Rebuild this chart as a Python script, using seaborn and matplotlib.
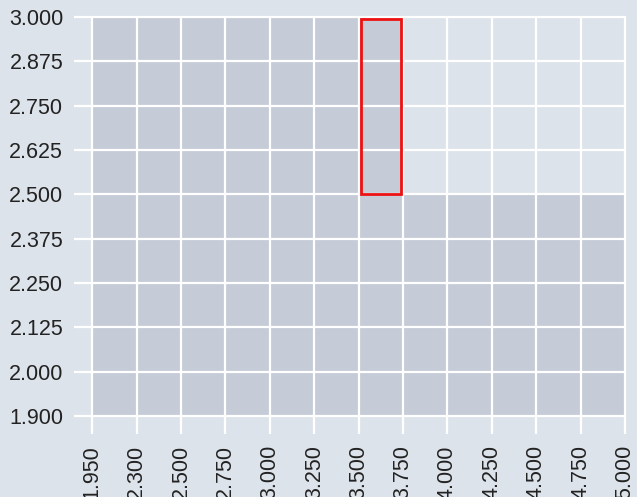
import numpy as np
import pandas as pd
import matplotlib
matplotlib.use("Agg")
import matplotlib.pyplot as plt
import matplotlib.patches as mpatches
import seaborn as sns

# dados
x_labels = ["1.950", "2.300", "2.500", "2.750", "3.000", "3.250", "3.500",
            "3.750", "4.000", "4.250", "4.500", "4.750", "5.000"]
y_labels = ["1.900", "2.000", "2.125", "2.250", "2.375", "2.500",
            "2.625", "2.750", "2.875", "3.000"]
# topo de cada coluna (valor do eixo y)
col_top = ["3.000", "3.000", "3.000", "3.000", "3.000", "3.000", "3.000",
           "2.500", "2.500", "2.500", "2.500", "2.500"]
# faixa destacada
hl_x = ("3.500", "3.750")
hl_y = ("2.500", "3.000")

BG = "#dde3ea"
FILL = "#c5ccd7"

sns.set_theme(style="whitegrid")
plt.rcParams.update({
    "figure.facecolor": BG,
    "axes.facecolor": BG,
    "grid.color": "white",
    "grid.linewidth": 1.6,
    "font.family": ["Liberation Sans", "DejaVu Sans"],
})

df = pd.DataFrame({
    "pos": np.arange(len(col_top)) + 0.5,
    "altura": [y_labels.index(v) for v in col_top],
})

fig, ax = plt.subplots(figsize=(6.37, 4.97), dpi=100)
sns.barplot(data=df, x="pos", y="altura", native_scale=True, width=1,
            color=FILL, saturation=1, linewidth=0, errorbar=None, ax=ax)

x0, x1 = x_labels.index(hl_x[0]), x_labels.index(hl_x[1])
y0, y1 = y_labels.index(hl_y[0]), y_labels.index(hl_y[1])
ax.add_patch(mpatches.Rectangle((x0 + 0.05, y0), x1 - x0 - 0.1, y1 - y0 - 0.05,
                                fill=False, edgecolor="#ee1111", linewidth=2,
                                zorder=5))

ax.set_xlim(0, len(x_labels) - 1)
ax.set_ylim(0, len(y_labels) - 1)
ax.set_xticks(range(len(x_labels)))
ax.set_xticklabels(x_labels, rotation=90)
ax.set_yticks(range(len(y_labels)))
ax.set_yticklabels(y_labels)
ax.set_xlabel("")
ax.set_ylabel("")
ax.set_axisbelow(False)
ax.grid(True, color="white", linewidth=1.6, zorder=3)
for gl in ax.get_xgridlines() + ax.get_ygridlines():
    gl.set_clip_on(False)
ax.tick_params(axis="both", bottom=True, left=True, length=13, width=1.6,
               color="white", labelsize=15.5, labelcolor="#222222", pad=8)
for s in ax.spines.values():
    s.set_visible(False)

fig.subplots_adjust(left=0.145, right=0.981, top=0.966, bottom=0.163)
plt.savefig("out.png", facecolor=BG)
